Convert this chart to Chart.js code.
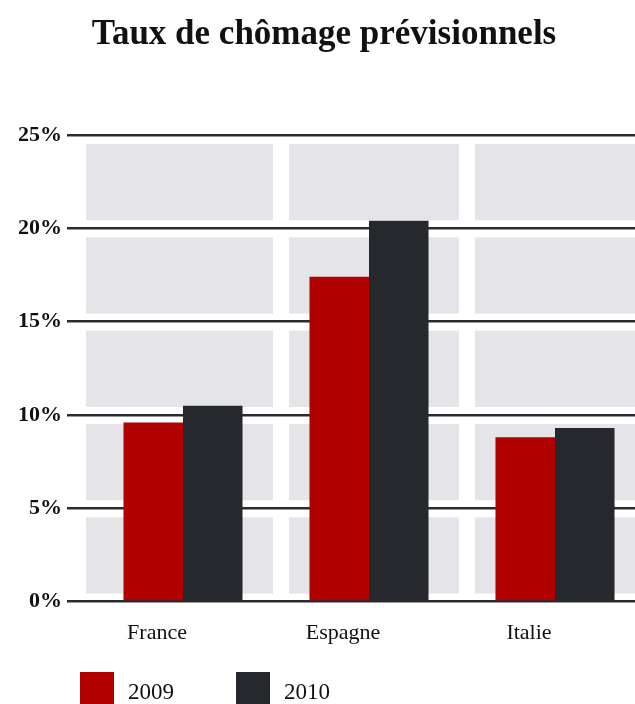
<!DOCTYPE html>
<html lang="fr">
<head>
<meta charset="utf-8">
<title>Taux de chômage prévisionnels</title>
<script src="https://cdn.jsdelivr.net/npm/chart.js@4/dist/chart.umd.min.js"></script>
<style>
  html, body { margin: 0; padding: 0; background: #fff; overflow: hidden; }
  #wrap { position: relative; width: 650px; height: 704px; }
  #legend {
    position: absolute; left: 80px; top: 672px;
    display: flex; font-family: "Liberation Serif", serif; font-size: 23px; color: #111;
  }
  #legend .item { display: flex; align-items: flex-start; margin-right: 62px; }
  #legend .box { width: 34px; height: 40px; margin-right: 14px; }
  #legend .txt { line-height: 40px; }
</style>
</head>
<body>
<div id="wrap">
  <canvas id="chomageChart"></canvas>
  <div id="legend"></div>
</div>
<script>
const pays = ["France", "Espagne", "Italie"];
const annees = ["2009", "2010"];
const taux2009 = [9.6, 17.4, 8.8];
const taux2010 = [10.5, 20.4, 9.3];
const graduations = [0, 5, 10, 15, 20, 25];

const serif = "'Liberation Serif', 'DejaVu Serif', serif";

// fond gris en panneaux, entre les lignes de grille
const panneauxGris = {
  id: "panneauxGris",
  beforeDraw(chart) {
    const { ctx, chartArea, scales } = chart;
    const x = scales.x, y = scales.y;
    const pas = x.getPixelForValue(1) - x.getPixelForValue(0);
    const m1 = x.getPixelForValue(0) + pas / 2 + 5;
    const m2 = x.getPixelForValue(1) + pas / 2 + 5;
    const colonnes = [
      [chartArea.left - 4, m1 - 8],
      [m1 + 8, m2 - 8],
      [m2 + 8, chartArea.right]
    ];
    ctx.save();
    ctx.fillStyle = "#e5e5e9";
    for (let i = 0; i < graduations.length - 1; i++) {
      const haut = y.getPixelForValue(graduations[i + 1]) + 9;
      const bas = y.getPixelForValue(graduations[i]) - 8;
      colonnes.forEach(([g, d]) => ctx.fillRect(g, haut, d - g, bas - haut));
    }
    ctx.restore();
  }
};

const chart = new Chart(document.getElementById("chomageChart"), {
  type: "bar",
  data: {
    labels: pays,
    datasets: [
      { label: annees[0], data: taux2009, backgroundColor: "#b00000" },
      { label: annees[1], data: taux2010, backgroundColor: "#25282c" }
    ]
  },
  options: {
    responsive: true,
    maintainAspectRatio: false,
    animation: false,
    layout: { padding: { left: 0, right: 2, top: 0, bottom: 40 } },
    datasets: { bar: { categoryPercentage: 0.64, barPercentage: 1, borderWidth: 0 } },
    plugins: {
      legend: { display: false },
      tooltip: { enabled: false },
      title: {
        display: true,
        text: "Taux de chômage prévisionnels",
        color: "#111",
        font: { family: serif, size: 35, weight: "bold" },
        padding: { top: 14, bottom: 79 }
      }
    },
    scales: {
      x: {
        grid: { display: false, drawTicks: false },
        border: { display: false },
        ticks: {
          color: "#111",
          font: { family: serif, size: 22 },
          padding: 18,
          labelOffset: -26
        }
      },
      y: {
        min: 0,
        max: 25,
        afterFit(scale) { scale.width = 90; },
        afterBuildTicks(scale) { scale.ticks = graduations.map(v => ({ value: v })); },
        border: { display: false },
        grid: { color: "#2b2b2b", lineWidth: 2.5, tickLength: 23 },
        ticks: {
          color: "#111",
          font: { family: serif, size: 22, weight: "bold" },
          padding: 5,
          callback: v => v + "%"
        }
      }
    }
  },
  plugins: [panneauxGris]
});

// légende HTML construite depuis les jeux de données
const legende = document.getElementById("legend");
chart.data.datasets.forEach(ds => {
  const item = document.createElement("div");
  item.className = "item";
  item.innerHTML = '<span class="box" style="background:' + ds.backgroundColor + '"></span><span class="txt">' + ds.label + "</span>";
  legende.appendChild(item);
});
</script>
</body>
</html>
